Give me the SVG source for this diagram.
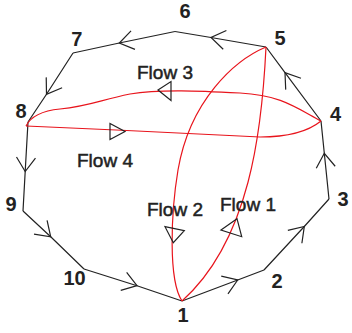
<svg xmlns="http://www.w3.org/2000/svg" width="352" height="333" viewBox="0 0 352 333">
<style>
.edge{fill:none;stroke:#222;stroke-width:1.2;marker-mid:url(#arr)}
.flow{fill:none;stroke:#e8141c;stroke-width:1.2}
.tri{fill:none;stroke:#222;stroke-width:1.2;stroke-linejoin:miter}
.num{font-family:"Liberation Sans",Arial,sans-serif;font-size:20px;font-weight:bold;fill:#222;text-anchor:middle}
.lbl{font-family:"Liberation Sans",Arial,sans-serif;font-size:19px;fill:#222;stroke:#222;stroke-width:0.5;text-anchor:middle}
</style>
<defs>
<marker id="arr" markerUnits="userSpaceOnUse" viewBox="-16 -11 18 22" markerWidth="18" markerHeight="22" refX="0" refY="0" orient="auto" overflow="visible">
<path d="M-14,-9.5 L0,0 L-14,9.5" fill="none" stroke="#222" stroke-width="1.2"/>
</marker>
</defs>
<g id="connectors">
<path class="edge" d="M182,301 L237.7,280 L264,270"/>
<path class="edge" d="M264,270 L304.3,226.5 L329,199"/>
<path class="edge" d="M329,199 L324.3,153.3 L321,121"/>
<path class="edge" d="M321,121 L285,72.7 L266,47"/>
<path class="edge" d="M266,47 L211,37.5 L175,31.5"/>
<path class="edge" d="M175,31.5 L119.3,43 L73,53"/>
<path class="edge" d="M73,53 L46.5,94.3 L28,122"/>
<path class="edge" d="M28,122 L25.2,171.5 L23,211"/>
<path class="edge" d="M23,211 L50.7,236.8 L84,269"/>
<path class="edge" d="M84,269 L137,285.7 L182,301"/>
</g>
<g id="flow-1">
<path class="flow" d="M182,301 C250,240 262,130 266,47"/>
<polygon class="tri" points="221,230 237,218.7 241.7,236.7"/>
<text class="lbl" x="248" y="211">Flow 1</text>
</g>
<g id="flow-2">
<path class="flow" d="M266,47 C235,60 190,100 178,170 C171,212 168,280 182,301"/>
<polygon class="tri" points="165,226.7 184.3,230.7 173.3,242.7"/>
<text class="lbl" x="175" y="216">Flow 2</text>
</g>
<g id="flow-3">
<path class="flow" d="M321,121 C295,107 280,95 240,93 C200,91 160,89 130,94 C100,100 90,106 60,109 C40,111 30,118 26,126"/>
<polygon class="tri" points="158,90 171,81.5 171,100.5"/>
<text class="lbl" x="165" y="79">Flow 3</text>
</g>
<g id="flow-4">
<path class="flow" d="M26,126 C100,129 200,134 260,137 C290,137 310,130 321,121"/>
<polygon class="tri" points="110,123.5 110,139.5 125,131.5"/>
<text class="lbl" x="105" y="167">Flow 4</text>
</g>
<g id="node-1"><text class="num" x="183" y="322">1</text></g>
<g id="node-2"><text class="num" x="277" y="288">2</text></g>
<g id="node-3"><text class="num" x="343" y="206">3</text></g>
<g id="node-4"><text class="num" x="335.5" y="121">4</text></g>
<g id="node-5"><text class="num" x="280" y="45">5</text></g>
<g id="node-6"><text class="num" x="185" y="18">6</text></g>
<g id="node-7"><text class="num" x="76.7" y="46">7</text></g>
<g id="node-8"><text class="num" x="21" y="118">8</text></g>
<g id="node-9"><text class="num" x="11" y="211">9</text></g>
<g id="node-10"><text class="num" x="74.5" y="285">10</text></g>
</svg>
